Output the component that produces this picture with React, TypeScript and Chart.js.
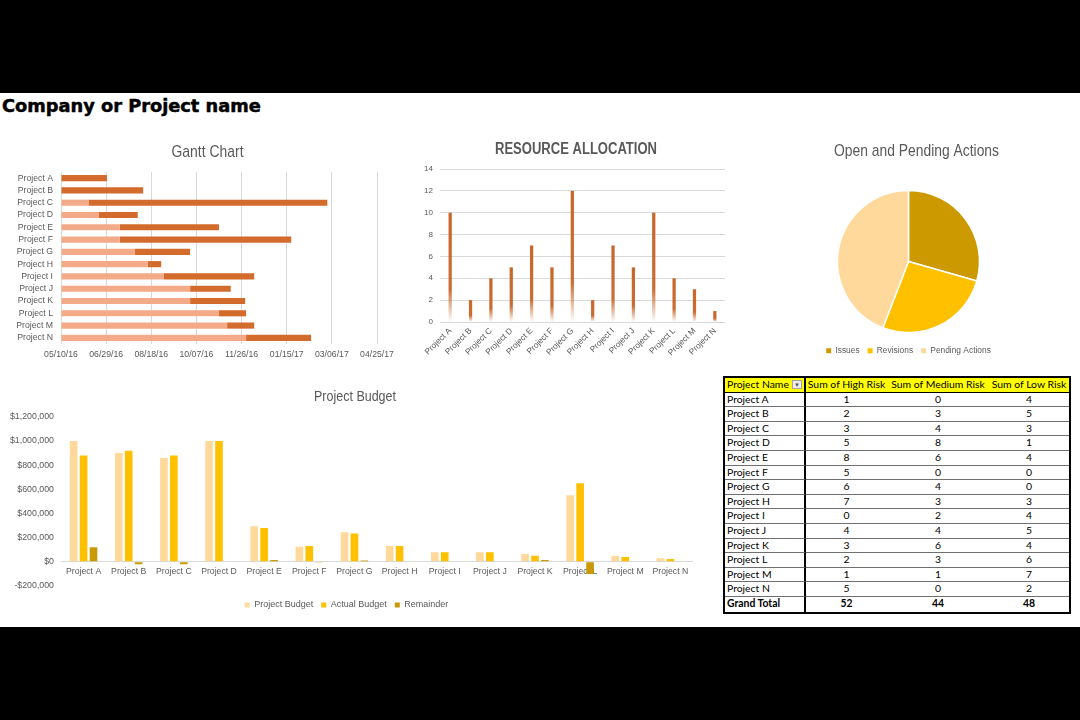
import React, { useEffect, useRef } from 'react';
import { Chart, registerables } from 'chart.js';

Chart.register(...registerables);

const FONT = "'Liberation Sans', Arial, sans-serif";
const GREY = '#595959';
const GRID = '#d9d9d9';

// ---------- data ----------
const projects = [
  'Project A', 'Project B', 'Project C', 'Project D', 'Project E', 'Project F', 'Project G',
  'Project H', 'Project I', 'Project J', 'Project K', 'Project L', 'Project M', 'Project N',
];

const ganttAxisStart = '05/10/16';
const ganttAxisSpanDays = 350;
const ganttTickStepDays = 50;
const ganttStart = [
  '05/10/16', '05/10/16', '06/10/16', '06/21/16', '07/14/16', '07/14/16', '07/31/16',
  '08/14/16', '09/01/16', '09/30/16', '09/30/16', '11/01/16', '11/10/16', '12/01/16',
];
const ganttDuration = [51, 91, 264, 43, 110, 190, 61, 15, 100, 45, 61, 30, 30, 72];

const resourceValues = [10, 2, 4, 5, 7, 5, 12, 2, 7, 5, 10, 4, 3, 1];

const actionLabels = ['Issues', 'Revisions', 'Pending Actions'];
const actionValues = [10, 9, 15];

const budgetSeries = ['Project Budget', 'Actual Budget', 'Remainder'];
const projectBudget = [1000000, 900000, 860000, 1000000, 295000, 125000, 245000, 130000, 80000, 80000, 65000, 550000, 48000, 30000];
const actualBudget = [880000, 920000, 880000, 1000000, 280000, 130000, 235000, 130000, 80000, 80000, 50000, 650000, 40000, 24000];
const remainder = [120000, -20000, -20000, 0, 15000, -5000, 10000, 0, 0, 0, 15000, -100000, 0, 0];

const tableHeaders = ['Project Name', 'Sum of High Risk', 'Sum of Medium Risk', 'Sum of Low Risk'];
const riskHigh = [1, 2, 3, 5, 8, 5, 6, 7, 0, 4, 3, 2, 1, 5];
const riskMedium = [0, 3, 4, 8, 6, 0, 4, 3, 2, 4, 6, 3, 1, 0];
const riskLow = [4, 5, 3, 1, 4, 0, 0, 3, 4, 5, 4, 6, 7, 2];

// ---------- helpers ----------
const DAY = 86400000;
function parseDate(s: string) {
  const [m, d, y] = s.split('/').map(Number);
  return Date.UTC(2000 + y, m - 1, d) / DAY;
}
function fmtDate(day: number) {
  const dt = new Date(day * DAY);
  const p = (n: number) => String(n).padStart(2, '0');
  return `${p(dt.getUTCMonth() + 1)}/${p(dt.getUTCDate())}/${p(dt.getUTCFullYear() % 100)}`;
}
function money(v: number) {
  return (v < 0 ? '-' : '') + '$' + Math.abs(v).toLocaleString('en-US');
}
const sum = (a: number[]) => a.reduce((s, v) => s + v, 0);

// places the title in a given horizontal span (text is fitted to it) and nudges the legend
const boxAdjust = {
  id: 'boxAdjust',
  afterLayout(chart: any, _args: any, opts: any) {
    const t = chart.titleBlock;
    if (t && opts && opts.titleLeft != null) {
      t.left = opts.titleLeft;
      t.right = opts.titleRight;
      t.width = opts.titleRight - opts.titleLeft;
    }
    const l = chart.legend;
    if (l && opts && opts.legendDy) {
      l.top += opts.legendDy;
      l.bottom += opts.legendDy;
    }
  },
};

export default function App() {
  const ganttRef = useRef<HTMLCanvasElement>(null);
  const resRef = useRef<HTMLCanvasElement>(null);
  const pieRef = useRef<HTMLCanvasElement>(null);
  const budRef = useRef<HTMLCanvasElement>(null);

  useEffect(() => {
    Chart.defaults.font.family = FONT;
    Chart.defaults.color = GREY;
    const axisDay = parseDate(ganttAxisStart);
    const charts: Chart[] = [];

    charts.push(new Chart(ganttRef.current!, {
      type: 'bar',
      plugins: [boxAdjust],
      data: {
        labels: projects,
        datasets: [
          { label: 'Start', data: ganttStart.map((s) => parseDate(s) - axisDay), backgroundColor: '#F2AA88' },
          { label: 'Duration', data: ganttDuration, backgroundColor: '#D36B2C' },
        ],
      },
      options: {
        indexAxis: 'y',
        responsive: false,
        animation: false,
        layout: { padding: { right: 23 } },
        datasets: { bar: { categoryPercentage: 1, barPercentage: 0.5 } },
        plugins: {
          legend: { display: false },
          tooltip: { enabled: false },
          boxAdjust: { titleLeft: 171.5, titleRight: 243.5 },
          title: {
            display: true, text: 'Gantt Chart', color: GREY,
            font: { size: 17, weight: 'normal', family: FONT },
            padding: { top: 12, bottom: 9.6 },
          },
        },
        scales: {
          x: {
            stacked: true, min: 0, max: ganttAxisSpanDays,
            ticks: {
              stepSize: ganttTickStepDays, autoSkip: false, maxRotation: 0, padding: 5,
              color: GREY, font: { size: 8.7, family: FONT },
              callback: (v: any) => fmtDate(axisDay + Number(v)),
            },
            grid: { color: GRID, drawTicks: false },
            border: { display: false },
            afterFit: (s: any) => { s.height = 26; },
          },
          y: {
            stacked: true,
            ticks: { autoSkip: false, color: GREY, font: { size: 8.7, family: FONT }, padding: 8 },
            grid: { display: false, drawTicks: false },
            border: { display: false },
            afterFit: (s: any) => { s.width = 61; },
          },
        },
      },
    } as any));

    const orange = [200, 102, 42];
    charts.push(new Chart(resRef.current!, {
      type: 'bar',
      plugins: [boxAdjust],
      data: {
        labels: projects,
        datasets: [{
          label: 'Resources',
          data: resourceValues,
          categoryPercentage: 1,
          barPercentage: 0.16,
          backgroundColor: (ctx: any) => {
            const chart = ctx.chart;
            const { chartArea, scales } = chart;
            if (!chartArea || ctx.type !== 'data' || !scales.y) return `rgb(${orange})`;
            const v = resourceValues[ctx.dataIndex];
            const top = scales.y.getPixelForValue(v);
            const base = scales.y.getPixelForValue(0);
            const g = chart.ctx.createLinearGradient(0, top, 0, base);
            g.addColorStop(0, `rgba(${orange},1)`);
            g.addColorStop(0.7, `rgba(${orange},0.95)`);
            g.addColorStop(1, `rgba(${orange},0)`);
            return g;
          },
        }],
      },
      options: {
        responsive: false,
        animation: false,
        layout: { padding: { right: 17 } },
        plugins: {
          legend: { display: false },
          tooltip: { enabled: false },
          boxAdjust: { titleLeft: 85, titleRight: 247 },
          title: {
            display: true, text: 'RESOURCE ALLOCATION', color: GREY,
            font: { size: 16, weight: 'bold', family: FONT },
            padding: { top: 10.4, bottom: 9.4 },
          },
        },
        scales: {
          x: {
            grid: { display: false, drawTicks: false },
            border: { display: false },
            ticks: { minRotation: 45, maxRotation: 45, autoSkip: false, padding: 4, color: GREY, font: { size: 8.3, family: FONT } },
            afterFit: (s: any) => { s.height = 43; },
          },
          y: {
            min: 0, max: 14,
            ticks: { stepSize: 2, padding: 7, color: GREY, font: { size: 8, family: FONT } },
            grid: { color: GRID, drawTicks: false },
            border: { display: false },
            afterFit: (s: any) => { s.width = 30; },
          },
        },
      },
    } as any));

    const pieLegendLabels = (chart: any) =>
      (Chart as any).overrides.pie.plugins.legend.labels.generateLabels(chart).map((it: any) => ({ ...it, lineWidth: 0 }));

    charts.push(new Chart(pieRef.current!, {
      type: 'pie',
      plugins: [boxAdjust],
      data: {
        labels: actionLabels,
        datasets: [{
          data: actionValues,
          backgroundColor: ['#CC9A00', '#FFC000', '#FFD99B'],
          borderColor: '#ffffff',
          borderWidth: 1.5,
          radius: 71,
        }],
      },
      options: {
        responsive: false,
        animation: false,
        layout: { padding: { left: 48, right: 66 } },
        plugins: {
          tooltip: { enabled: false },
          boxAdjust: { titleLeft: 74, titleRight: 239 },
          title: {
            display: true, text: 'Open and Pending Actions', color: GREY,
            font: { size: 17, weight: 'normal', family: FONT },
            padding: { top: 11.5, bottom: 22.5 },
          },
          legend: {
            position: 'bottom',
            labels: {
              boxWidth: 5, boxHeight: 5, padding: 8, color: GREY,
              font: { size: 8.4, family: FONT },
              generateLabels: pieLegendLabels,
            },
          },
        },
      },
    } as any));

    charts.push(new Chart(budRef.current!, {
      type: 'bar',
      plugins: [boxAdjust],
      data: {
        labels: projects,
        datasets: [
          { label: budgetSeries[0], data: projectBudget, backgroundColor: '#FFD99B' },
          { label: budgetSeries[1], data: actualBudget, backgroundColor: '#FFC000' },
          { label: budgetSeries[2], data: remainder, backgroundColor: '#C99A06' },
        ],
      },
      options: {
        responsive: false,
        animation: false,
        layout: { padding: { right: 27, bottom: 1.5 } },
        datasets: { bar: { categoryPercentage: 0.66, barPercentage: 0.77 } },
        plugins: {
          tooltip: { enabled: false },
          boxAdjust: { titleLeft: 314, titleRight: 396, legendDy: 6.5 },
          title: {
            display: true, text: 'Project Budget', color: GREY,
            font: { size: 15.5, weight: 'normal', family: FONT },
            padding: { top: 8, bottom: 11.2 },
          },
          legend: {
            position: 'bottom',
            labels: { boxWidth: 5, boxHeight: 5, padding: 8, color: GREY, font: { size: 9, family: FONT } },
          },
        },
        scales: {
          x: {
            position: { y: 0 },
            grid: { display: false, drawTicks: false },
            border: { display: false },
            ticks: { autoSkip: false, maxRotation: 0, padding: 5, color: GREY, font: { size: 8.7, family: FONT } },
          },
          y: {
            min: -200000, max: 1200000,
            ticks: { stepSize: 200000, padding: 7, color: GREY, font: { size: 8.8, family: FONT }, callback: (v: any) => money(Number(v)) },
            grid: { drawTicks: false, color: (c: any) => (c.tick && c.tick.value === 0 ? GRID : 'rgba(0,0,0,0)') },
            border: { display: false },
            afterFit: (s: any) => { s.width = 61; s.paddingBottom = 33; },
          },
        },
      },
    } as any));

    return () => charts.forEach((c) => c.destroy());
  }, []);

  const cellFont = "Lato, 'Open Sans', sans-serif";
  const rowH = 14.6;
  const colW = [81, 81, 102, 80];
  const rows = projects.map((p, i) => [p, riskHigh[i], riskMedium[i], riskLow[i]]);
  const totals = ['Grand Total', sum(riskHigh), sum(riskMedium), sum(riskLow)];

  const cell = (content: any, ci: number, opts: any = {}) => (
    <div
      key={ci}
      style={{
        width: colW[ci],
        height: rowH,
        lineHeight: `${rowH - 1}px`,
        boxSizing: 'border-box',
        borderRight: ci === 0 ? '2px solid #000' : 'none',
        borderBottom: opts.lastRow ? 'none' : `1px solid ${opts.header ? '#000' : '#6f6f6f'}`,
        textAlign: ci === 0 ? 'left' : 'center',
        paddingLeft: ci === 0 ? 2 : 0,
        fontWeight: opts.totalRow ? 'bold' : 'normal',
        whiteSpace: 'nowrap',
        overflow: 'visible',
        position: 'relative',
        background: opts.header ? '#FFFF00' : 'transparent',
      }}
    >
      {content}
      {opts.header && ci === 0 ? (
        <span
          style={{
            position: 'absolute', right: 2, top: 2, width: 10, height: 9,
            border: '1px solid #a6a6a6', background: '#ededed', fontSize: 6, lineHeight: '8px',
            textAlign: 'center', color: '#555', boxSizing: 'border-box',
          }}
        >▼</span>
      ) : null}
    </div>
  );

  return (
    <div style={{ position: 'fixed', left: 0, top: 0, width: 1080, height: 720, background: '#000', overflow: 'hidden' }}>
      <div style={{ position: 'absolute', left: 0, top: 93, width: 1080, height: 534, background: '#fff' }} />
      <div
        style={{
          position: 'absolute', left: 2, top: 95, fontFamily: "'DejaVu Sans', sans-serif", fontWeight: 'bold',
          fontSize: 17.8, lineHeight: '22px', color: '#000', whiteSpace: 'nowrap',
          WebkitTextStroke: '0.5px #000',
        }}
      >
        Company or Project name
      </div>
      <canvas ref={ganttRef} width={400} height={240} style={{ position: 'absolute', left: 0, top: 130 }} />
      <canvas ref={resRef} width={332} height={235} style={{ position: 'absolute', left: 410, top: 130 }} />
      <canvas ref={pieRef} width={315} height={235} style={{ position: 'absolute', left: 760, top: 130 }} />
      <canvas ref={budRef} width={720} height={240} style={{ position: 'absolute', left: 0, top: 379 }} />
      <div
        style={{
          position: 'absolute', left: 723, top: 376, border: '2px solid #000', background: '#fff',
          fontFamily: cellFont, fontSize: 10.4, color: '#000',
        }}
      >
        <div style={{ display: 'flex' }}>
          {tableHeaders.map((h, ci) => cell(h, ci, { header: true }))}
        </div>
        {rows.map((r, ri) => (
          <div key={ri} style={{ display: 'flex' }}>
            {r.map((v, ci) => cell(v, ci))}
          </div>
        ))}
        <div style={{ display: 'flex' }}>
          {totals.map((v, ci) => cell(v, ci, { totalRow: true, lastRow: true }))}
        </div>
      </div>
    </div>
  );
}
